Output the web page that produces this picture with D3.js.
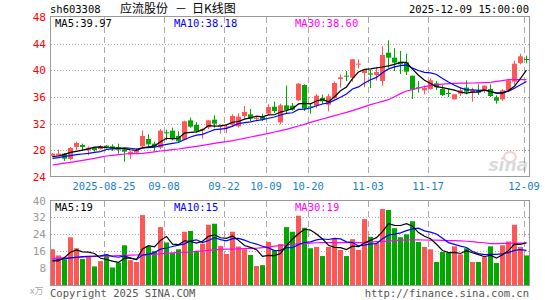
<!DOCTYPE html>
<html>
<head>
<meta charset="utf-8">
<script src="https://cdn.jsdelivr.net/npm/d3@7"></script>
<style>
  body { margin: 0; background: #fff; }
  svg { display: block; }
</style>
</head>
<body>
<svg id="chart" width="545" height="300"></svg>
<script>
// trading days shown, 2025-08-12 .. 2025-12-09
var dates = [
  "2025-08-12","2025-08-13","2025-08-14","2025-08-15","2025-08-18","2025-08-19","2025-08-20","2025-08-21","2025-08-22",
  "2025-08-25","2025-08-26","2025-08-27","2025-08-28","2025-08-29",
  "2025-09-01","2025-09-02","2025-09-03","2025-09-04","2025-09-05",
  "2025-09-08","2025-09-09","2025-09-10","2025-09-11","2025-09-12",
  "2025-09-15","2025-09-16","2025-09-17","2025-09-18","2025-09-19",
  "2025-09-22","2025-09-23","2025-09-24","2025-09-25","2025-09-26","2025-09-29","2025-09-30",
  "2025-10-09","2025-10-10","2025-10-13","2025-10-14","2025-10-15","2025-10-16","2025-10-17",
  "2025-10-20","2025-10-21","2025-10-22","2025-10-23","2025-10-24",
  "2025-10-27","2025-10-28","2025-10-29","2025-10-30","2025-10-31",
  "2025-11-03","2025-11-04","2025-11-05","2025-11-06","2025-11-07",
  "2025-11-10","2025-11-11","2025-11-12","2025-11-13","2025-11-14",
  "2025-11-17","2025-11-18","2025-11-19","2025-11-20","2025-11-21",
  "2025-11-24","2025-11-25","2025-11-26","2025-11-27","2025-11-28",
  "2025-12-01","2025-12-02","2025-12-03","2025-12-04","2025-12-05",
  "2025-12-08","2025-12-09"
];

var opens = [
  27.2, 27.2, 27.5, 26.7, 28.5, 28.8, 28.0, 28.4, 28.2, 28.7,
  28.6, 28.5, 28.15, 27.4, 27.65, 28.6, 29.7, 29.0, 28.4, 30.7,
  30.95, 30.15, 29.6, 32.5, 31.8, 31.0, 31.45, 32.6, 31.55, 31.4,
  31.85, 31.6, 33.15, 33.4, 32.7, 33.05, 33.5, 34.55, 32.2, 34.75,
  34.7, 35.5, 37.8, 34.6, 34.7, 35.85, 34.85, 35.85, 38.7, 39.2,
  38.9, 40.95, 39.6, 39.55, 39.3, 38.4, 42.65, 41.9, 41.3, 41.2,
  39.2, 37.45, 37.0, 37.2, 38.05, 37.2, 36.6, 35.65, 36.5, 37.4,
  36.65, 36.9, 36.9, 37.2, 35.95, 35.65, 37.0, 38.3, 41.1, 41.7
];
var highs = [
  27.6, 28.1, 27.6, 28.5, 29.3, 29.0, 28.6, 28.5, 28.8, 28.8,
  28.9, 29.0, 28.3, 27.9, 28.3, 31.0, 30.4, 29.3, 31.2, 31.1,
  31.4, 30.85, 32.45, 32.9, 32.2, 31.3, 32.5, 33.25, 31.9, 31.9,
  33.4, 33.55, 34.65, 34.2, 33.0, 33.5, 34.9, 35.3, 35.0, 37.7,
  35.1, 38.1, 37.9, 35.1, 36.45, 36.35, 36.45, 38.3, 39.4, 39.9,
  41.7, 41.65, 40.2, 40.1, 40.4, 43.6, 44.5, 43.3, 42.9, 42.5,
  39.2, 38.4, 37.75, 38.8, 38.4, 37.75, 37.25, 36.45, 37.4, 38.5,
  37.4, 37.9, 37.75, 37.9, 36.25, 37.2, 38.6, 41.45, 42.5, 42.2
];
var lows = [
  27.0, 27.1, 26.4, 26.5, 28.0, 27.9, 27.25, 27.8, 28.1, 28.3,
  27.9, 27.5, 26.3, 26.7, 27.5, 28.5, 28.6, 27.8, 28.2, 29.5,
  29.5, 29.2, 29.5, 31.4, 30.6, 29.75, 31.2, 31.4, 30.5, 30.6,
  31.5, 31.4, 32.65, 32.4, 32.5, 32.4, 33.3, 33.6, 31.9, 33.6,
  33.95, 35.4, 33.9, 33.5, 34.4, 34.95, 33.85, 35.7, 37.4, 38.4,
  38.3, 40.3, 37.45, 37.35, 38.45, 37.7, 40.4, 39.9, 39.45, 39.3,
  35.7, 36.65, 36.4, 37.1, 37.05, 36.15, 36.0, 35.6, 36.15, 36.4,
  35.3, 36.3, 36.6, 36.0, 35.0, 35.4, 36.8, 37.85, 40.9, 41.05
];
var closes = [
  27.5, 27.5, 26.75, 28.35, 29.1, 28.5, 28.4, 28.05, 28.6, 28.5,
  28.25, 28.1, 27.8, 27.8, 28.0, 30.15, 28.9, 28.5, 30.95, 30.55,
  29.7, 29.35, 32.35, 31.55, 30.85, 31.2, 32.5, 32.0, 31.8, 31.6,
  33.15, 33.05, 33.75, 32.75, 32.9, 32.65, 34.5, 33.9, 34.75, 34.05,
  34.1, 38.0, 34.25, 34.45, 36.2, 35.35, 36.1, 38.1, 38.95, 39.05,
  41.65, 41.0, 40.1, 39.35, 39.75, 42.3, 41.9, 41.15, 40.9, 39.8,
  37.1, 37.4, 37.35, 38.5, 37.45, 36.3, 36.45, 36.4, 37.0, 36.8,
  37.0, 36.65, 37.7, 36.15, 35.45, 37.0, 38.5, 41.0, 42.1, 41.6
];
// volume, 万手
var volumes = [
  16.9, 14.0, 12.1, 22.6, 17.4, 12.3, 13.6, 8.8, 11.3, 14.4,
  8.3, 10.6, 18.8, 11.8, 10.9, 33.1, 18.3, 16.0, 27.4, 20.1,
  15.1, 16.9, 25.2, 25.6, 16.2, 19.6, 28.5, 29.0, 18.5, 14.7,
  25.2, 18.2, 16.9, 14.2, 9.0, 9.4, 20.4, 16.4, 19.4, 27.4,
  25.2, 32.8, 27.1, 17.4, 18.0, 13.7, 18.0, 22.0, 16.6, 13.7,
  21.7, 16.6, 31.2, 22.8, 19.8, 36.0, 35.5, 26.9, 22.6, 24.0,
  30.2, 20.4, 18.0, 16.9, 10.9, 15.6, 15.3, 18.3, 14.5, 17.4,
  10.9, 10.9, 13.2, 18.3, 10.4, 18.8, 20.6, 28.5, 18.0, 14.0
];
// MA30 lines (their window starts before the shown range)
var priceMa30 = [
  25.8, 25.93, 26.07, 26.2, 26.35, 26.5, 26.65, 26.8, 26.98, 27.15,
  27.25, 27.35, 27.45, 27.5, 27.52, 27.55, 27.67, 27.78, 27.9, 28.0,
  28.1, 28.2, 28.33, 28.47, 28.6, 28.75, 28.9, 29.05, 29.2, 29.3,
  29.45, 29.63, 29.8, 30.0, 30.18, 30.35, 30.55, 30.75, 30.95, 31.15,
  31.4, 31.65, 31.9, 32.2, 32.45, 32.7, 32.95, 33.2, 33.45, 33.7,
  33.95, 34.25, 34.55, 34.85, 35.1, 35.35, 35.6, 36.05, 36.5, 36.9,
  37.1, 37.35, 37.55, 37.7, 37.85, 37.92, 38.0, 38.05, 38.07, 38.08,
  38.1, 38.13, 38.17, 38.2, 38.33, 38.47, 38.6, 38.6, 38.6, 38.6
];
var volMa30 = [
  12.6, 12.7, 12.8, 12.9, 13.1, 13.2, 13.4, 13.5, 13.7, 13.7,
  13.8, 13.9, 14.0, 14.1, 14.2, 14.3, 14.4, 14.5, 14.8, 15.0,
  15.2, 15.4, 15.5, 15.6, 15.9, 16.1, 16.4, 16.6, 16.9, 17.0,
  17.0, 17.1, 17.2, 17.3, 17.4, 17.7, 18.0, 18.4, 18.7, 19.0,
  19.3, 19.5, 19.6, 19.8, 20.0, 20.1, 20.1, 20.1, 20.1, 20.1,
  20.1, 20.1, 20.1, 20.3, 20.5, 20.6, 20.8, 21.0, 21.2, 21.3,
  21.4, 21.4, 21.3, 21.2, 21.2, 21.1, 21.0, 21.0, 20.9, 20.7,
  20.5, 20.2, 20.0, 19.6, 19.6, 19.7, 19.7, 19.8, 19.8, 19.8
];
// first MA5 / MA10 points (window reaches before 08-12)
var priceMa5Head = [27.05, 27.15, 27.4, 27.7];
var priceMa10Head = [26.8, 26.9, 27.1, 27.2, 27.35, 27.45, 27.55, 27.7, 27.8];
var volMa5Head = [11.4, 11.4, 13.0, 15.5];
var volMa10Head = [11.6, 12.0, 12.4, 12.8, 13.1, 13.4, 13.6, 13.7, 13.8];

var tickDates = ["2025-08-25","2025-09-08","2025-09-22","2025-10-09","2025-10-20","2025-11-03","2025-11-17","2025-12-09"];
var tickLabels = ["2025-08-25","09-08","09-22","10-09","10-20","11-03","11-17","12-09"];
var priceTicks = [24, 28, 32, 36, 40, 44, 48];
var volTicks = [8, 16, 24, 32, 40];

var UP = "#ff5656", DOWN = "#00a800";
var MONO = "'DejaVu Sans Mono', monospace";
var CJK = "'Noto Sans CJK SC', sans-serif";

var svg = d3.select("#chart");

var x = d3.scaleBand().domain(dates).range([50, 529]).paddingInner(1 / 6).paddingOuter(0);
var bw = x.bandwidth();
var y = d3.scaleLinear().domain([24, 48]).range([177, 17]);
var yv = d3.scaleLinear().domain([0, 40]).range([285, 200.5]);

// moving average over the shown values; the first points come from the read-off head
function movingAvg(arr, n, head) {
  return arr.map(function(d, i) {
    if (i < n - 1) return head[i];
    return d3.mean(arr.slice(i - n + 1, i + 1));
  });
}

var rows = dates.map(function(d, i) {
  return { date: d, o: opens[i], h: highs[i], l: lows[i], c: closes[i], v: volumes[i] };
});

// ---- header texts
svg.append("text").attr("x", 50).attr("y", 13).attr("font-family", MONO).attr("font-size", 10.5)
  .attr("fill", "#000").text("sh603308");
svg.append("text").attr("x", 120).attr("y", 13).attr("font-family", CJK)
  .attr("font-size", 12).attr("fill", "#000").text("应流股份");
svg.append("text").attr("x", 175).attr("y", 13).attr("font-family", CJK)
  .attr("font-size", 12).attr("fill", "#000").text("－");
svg.append("text").attr("x", 192).attr("y", 13).attr("font-family", CJK)
  .attr("font-size", 12).attr("fill", "#000").text("日K线图");
svg.append("text").attr("x", 529).attr("y", 13).attr("text-anchor", "end").attr("font-family", MONO)
  .attr("font-size", 10.5).attr("fill", "#000").text("2025-12-09 15:00:00");

// ---- grid
function hGrid(scale, ticks) {
  svg.append("g").selectAll("line").data(ticks).enter().append("line")
    .attr("x1", 51).attr("x2", 529)
    .attr("y1", function(d) { return Math.round(scale(d)) + 0.5; })
    .attr("y2", function(d) { return Math.round(scale(d)) + 0.5; })
    .attr("stroke", "#aaa").attr("stroke-dasharray", "1,2");
}
hGrid(y, [28, 32, 36, 40, 44]);
hGrid(yv, [8, 16, 24, 32]);

function vGrid(y1, y2) {
  svg.append("g").selectAll("line").data(tickDates).enter().append("line")
    .attr("x1", function(d) { return Math.round(x(d)) + 0.5; })
    .attr("x2", function(d) { return Math.round(x(d)) + 0.5; })
    .attr("y1", y1).attr("y2", y2)
    .attr("stroke", "#aaa").attr("stroke-dasharray", "6,4");
}
vGrid(17, 176);
vGrid(201, 285);

// ---- sina watermark
var wm = svg.append("g").attr("opacity", 0.3);
wm.append("ellipse").attr("cx", 510).attr("cy", 157).attr("rx", 6).attr("ry", 5)
  .attr("fill", "none").attr("stroke", "#e06060").attr("stroke-width", 2);
wm.append("text").attr("x", 528).attr("y", 171).attr("text-anchor", "end")
  .attr("font-family", "'DejaVu Sans', sans-serif").attr("font-size", 17).attr("font-weight", "bold")
  .attr("font-style", "italic").attr("fill", "#888").text("sina");

// ---- candles
var candles = svg.append("g").selectAll("g").data(rows).enter().append("g");
candles.append("line")
  .attr("x1", function(d) { return x(d.date) + bw / 2; })
  .attr("x2", function(d) { return x(d.date) + bw / 2; })
  .attr("y1", function(d) { return y(d.h); })
  .attr("y2", function(d) { return y(d.l); })
  .attr("stroke", function(d) { return d.c >= d.o ? UP : DOWN; })
  .attr("stroke-width", 1);
candles.append("rect")
  .attr("x", function(d) { return x(d.date); })
  .attr("width", bw)
  .attr("y", function(d) { return y(Math.max(d.o, d.c)); })
  .attr("height", function(d) { return Math.max(1, Math.abs(y(d.o) - y(d.c))); })
  .attr("fill", function(d) { return d.c >= d.o ? UP : DOWN; });

// ---- volume bars
svg.append("g").selectAll("rect").data(rows).enter().append("rect")
  .attr("x", function(d) { return x(d.date); })
  .attr("width", bw)
  .attr("y", function(d) { return yv(d.v); })
  .attr("height", function(d) { return yv(0) - yv(d.v); })
  .attr("fill", function(d) { return d.c >= d.o ? UP : DOWN; });

// ---- MA lines
function maLine(values, scale, color) {
  var line = d3.line()
    .x(function(d, i) { return x(dates[i]) + bw / 2; })
    .y(function(d) { return scale(d); });
  svg.append("path").datum(values).attr("d", line)
    .attr("fill", "none").attr("stroke", color).attr("stroke-width", 1.2);
}
maLine(priceMa30, y, "#ff00ff");
maLine(movingAvg(closes, 10, priceMa10Head), y, "#0000ff");
maLine(movingAvg(closes, 5, priceMa5Head), y, "#000");
maLine(volMa30, yv, "#ff00ff");
maLine(movingAvg(volumes, 10, volMa10Head), yv, "#0000ff");
maLine(movingAvg(volumes, 5, volMa5Head), yv, "#000");

// ---- frames
svg.append("rect").attr("x", 50.5).attr("y", 16.5).attr("width", 479).attr("height", 160)
  .attr("fill", "none").attr("stroke", "#999");
svg.append("rect").attr("x", 50.5).attr("y", 200.5).attr("width", 479).attr("height", 85)
  .attr("fill", "none").attr("stroke", "#999");

// ---- axes
var yAxis = svg.append("g").attr("transform", "translate(50,0)")
  .call(d3.axisLeft(y).tickValues(priceTicks).tickSize(0).tickPadding(4));
yAxis.select(".domain").remove();
yAxis.selectAll("text").attr("font-family", MONO).attr("font-size", 11).attr("fill", "#f00");

var vAxis = svg.append("g").attr("transform", "translate(50,0)")
  .call(d3.axisLeft(yv).tickValues(volTicks).tickSize(0).tickPadding(4));
vAxis.select(".domain").remove();
vAxis.selectAll("text").attr("font-family", MONO).attr("font-size", 11).attr("fill", "#999");

var xAxis = svg.append("g").attr("transform", "translate(" + (-bw / 2) + ",177)")
  .call(d3.axisBottom(x).tickValues(tickDates).tickSize(0).tickPadding(6)
    .tickFormat(function(d) { return tickLabels[tickDates.indexOf(d)]; }));
xAxis.select(".domain").remove();
xAxis.selectAll("text").attr("font-family", MONO).attr("font-size", 10.5).attr("fill", "#1a7fc8");

// ---- MA labels
function label(px, py, txt, color) {
  svg.append("text").attr("x", px).attr("y", py).attr("font-family", MONO).attr("font-size", 10.5)
    .attr("fill", color).text(txt);
}
label(55, 27, "MA5:39.97", "#000");
label(174, 27, "MA10:38.18", "#0000ff");
label(295, 27, "MA30:38.60", "#ff00ff");
label(55, 211, "MA5:19", "#000");
label(174, 211, "MA10:15", "#0000ff");
label(295, 211, "MA30:19", "#ff00ff");

// ---- footer
svg.append("text").attr("x", 30).attr("y", 294).attr("font-family", CJK)
  .attr("font-size", 9).attr("fill", "#aaa").text("x万");
svg.append("text").attr("x", 50).attr("y", 297).attr("font-family", MONO).attr("font-size", 10.5)
  .attr("fill", "#555").text("Copyright 2025 SINA.COM");
svg.append("text").attr("x", 529).attr("y", 297).attr("text-anchor", "end").attr("font-family", MONO)
  .attr("font-size", 10.5).attr("fill", "#555").text("http://finance.sina.com.cn");
</script>
</body>
</html>
